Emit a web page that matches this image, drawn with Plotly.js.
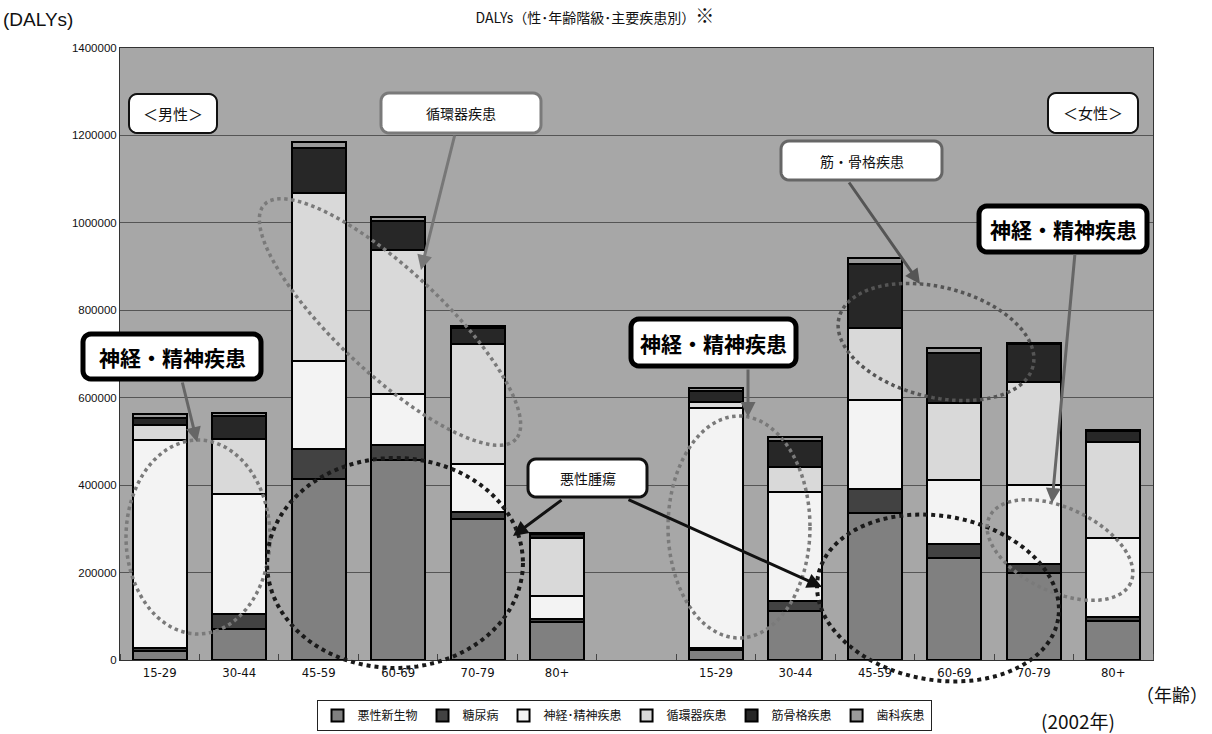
<!DOCTYPE html>
<html>
<head>
<meta charset="utf-8">
<script src="https://cdn.plot.ly/plotly-3.0.1.min.js"></script>
<style>html,body{margin:0;padding:0;background:#fff;}#chart{width:1212px;height:734px;}</style>
</head>
<body>
<div id="chart"></div>
<script>
// ---- data ----
const ageGroups = ['15-29', '30-44', '45-59', '60-69', '70-79', '80+'];
const sexes = ['男性', '女性'];
const seriesNames = ['悪性新生物', '糖尿病', '神経･精神疾患', '循環器疾患', '筋骨格疾患', '歯科疾患'];

// male (15-29 ... 80+)
const maleCancer     = [20000, 72000, 415000, 458000, 323000, 88000];
const maleDiabetes   = [8000, 33000, 68000, 33000, 15000, 6000];
const maleNeuro      = [476000, 275000, 200000, 118000, 110000, 53000];
const maleCirc       = [34000, 125000, 385000, 330000, 275000, 133000];
const maleMusculo    = [15000, 54000, 103000, 66000, 37000, 8000];
const maleDental     = [9000, 7000, 13000, 9000, 4000, 2000];

// female (15-29 ... 80+)
const femaleCancer   = [22000, 111000, 336000, 234000, 198000, 89000];
const femaleDiabetes = [5000, 23000, 55000, 31000, 22000, 10000];
const femaleNeuro    = [549000, 251000, 203000, 146000, 180000, 180000];
const femaleCirc     = [15000, 56000, 165000, 176000, 237000, 219000];
const femaleMusculo  = [25000, 61000, 146000, 115000, 85000, 26000];
const femaleDental   = [7000, 7000, 15000, 11000, 3000, 2000];

const yTicks = [0, 200000, 400000, 600000, 800000, 1000000, 1200000, 1400000];

// ---- build ----
const seriesColors = ['#808080', '#424242', '#f3f3f3', '#d9d9d9', '#272727', '#9a9a9a'];
const maleSeries = [maleCancer, maleDiabetes, maleNeuro, maleCirc, maleMusculo, maleDental];
const femaleSeries = [femaleCancer, femaleDiabetes, femaleNeuro, femaleCirc, femaleMusculo, femaleDental];

const maleX = ageGroups.map((_, i) => i);
const femaleX = ageGroups.map((_, i) => i + ageGroups.length + 1);
const tickvals = maleX.concat(femaleX);
const ticktext = ageGroups.concat(ageGroups);

const traces = seriesNames.map((name, k) => ({
  type: 'bar',
  name: name,
  x: maleX.concat(femaleX),
  y: maleSeries[k].concat(femaleSeries[k]),
  marker: {color: seriesColors[k], line: {color: '#000', width: 2}},
  width: 0.68,
  hoverinfo: 'x+y+name'
}));

// geometry helpers (plot area in pixels)
const L = 120, R = 1153, T = 48, B = 660;
const px = x => (x - L) / (R - L);
const py = y => (B - y) / (B - T);

function ellipse(cx, cy, a, b, angDeg) {
  const th = angDeg * Math.PI / 180;
  let d = '';
  for (let i = 0; i <= 90; i++) {
    const t = i / 90 * 2 * Math.PI;
    const ex = a * Math.cos(t), ey = b * Math.sin(t);
    const X = cx + ex * Math.cos(th) - ey * Math.sin(th);
    const Y = cy + ex * Math.sin(th) + ey * Math.cos(th);
    d += (i === 0 ? 'M' : 'L') + px(X).toFixed(5) + ',' + py(Y).toFixed(5);
  }
  return d + 'Z';
}
function roundRect(x0, y0, x1, y1, r) {
  const pts = [];
  const corners = [[x1 - r, y0 + r, -90], [x1 - r, y1 - r, 0], [x0 + r, y1 - r, 90], [x0 + r, y0 + r, 180]];
  corners.forEach(c => {
    for (let i = 0; i <= 6; i++) {
      const a = (c[2] + i * 15) * Math.PI / 180;
      pts.push([c[0] + r * Math.cos(a), c[1] + r * Math.sin(a)]);
    }
  });
  return pts.map((p, i) => (i === 0 ? 'M' : 'L') + px(p[0]).toFixed(5) + ',' + py(p[1]).toFixed(5)).join('') + 'Z';
}

const gray = '#7a7a7a';
const shapes = [
  {cx: 198, cy: 537, a: 72, b: 97, ang: 0, color: gray, w: 3.5},
  {cx: 390, cy: 322, a: 172, b: 52, ang: 43, color: gray, w: 3.5},
  {cx: 395, cy: 563, a: 128, b: 105, ang: 0, color: '#1a1a1a', w: 4},
  {cx: 739, cy: 527, a: 71, b: 111, ang: 0, color: gray, w: 3.5},
  {cx: 936, cy: 342, a: 100, b: 55, ang: 14, color: '#555', w: 3.5},
  {cx: 938, cy: 598, a: 122, b: 82, ang: 10, color: '#1a1a1a', w: 4},
  {cx: 1060, cy: 550, a: 78, b: 42, ang: 25, color: gray, w: 3.5}
].map(e => ({
  type: 'path', xref: 'paper', yref: 'paper', layer: 'above',
  path: ellipse(e.cx, e.cy, e.a, e.b, e.ang),
  line: {color: e.color, width: e.w, dash: 'dot'}
}));

const jp = '"Noto Sans CJK JP", "Noto Sans", sans-serif';
const annotations = [];
function box(text, x0, y0, x1, y1, border, bw, font) {
  shapes.push({type: 'path', xref: 'paper', yref: 'paper', layer: 'above',
    path: roundRect(x0, y0, x1, y1, 8), fillcolor: '#ffffff', line: {color: border, width: bw}});
  annotations.push({xref: 'paper', yref: 'paper', x: px((x0 + x1) / 2), y: py((y0 + y1) / 2),
    xanchor: 'center', yanchor: 'middle', showarrow: false, text: text,
    font: font || {family: jp, size: 14, color: '#111'}});
}
function arrow(x0, y0, x1, y1, color, w) {
  annotations.push({
    xref: 'paper', yref: 'paper', x: px(x1), y: py(y1),
    ax: x0 - x1, ay: y0 - y1, axref: 'pixel', ayref: 'pixel',
    showarrow: true, text: '', arrowhead: 2, arrowsize: 1, arrowwidth: w, arrowcolor: color
  });
}

const boldFont = {family: jp, size: 21, color: '#000', weight: 900};
arrow(455, 134, 421, 270, '#777', 3);
arrow(848, 181, 920, 284, '#555', 3);
arrow(182, 381, 197, 442, '#666', 3);
arrow(748, 368, 748, 417, '#666', 3);
arrow(1075, 253, 1052, 503, '#666', 3);
arrow(563, 499, 513, 536, '#111', 3);
arrow(627, 499, 822, 587, '#111', 3);
box('＜男性＞', 129, 94, 217, 133, '#111', 2, {family: jp, size: 15, color: '#111'});
box('循環器疾患', 381, 93, 541, 133, '#7a7a7a', 3);
box('＜女性＞', 1048, 93, 1138, 133, '#111', 2, {family: jp, size: 15, color: '#111'});
box('筋・骨格疾患', 781, 141, 942, 180, '#666', 3);
box('<b>神経・精神疾患</b>', 83, 334, 261, 379, '#000', 5, boldFont);
box('<b>神経・精神疾患</b>', 631, 319, 796, 366, '#000', 5, boldFont);
box('<b>神経・精神疾患</b>', 979, 206, 1147, 252, '#000', 5, boldFont);
box('悪性腫瘍', 528, 459, 647, 497, '#111', 3);

annotations.push(
  {xref: 'paper', yref: 'paper', x: px(38), y: py(20), xanchor: 'center', yanchor: 'middle', showarrow: false,
   text: '(DALYs)', font: {family: '"Liberation Sans Narrow", "Liberation Sans", Arial, sans-serif', size: 19, color: '#111'}},
  {xref: 'paper', yref: 'paper', x: px(1172), y: py(694), xanchor: 'center', yanchor: 'middle', showarrow: false,
   text: '（年齢）', font: {family: jp, size: 18, color: '#111'}},
  {xref: 'paper', yref: 'paper', x: px(1078), y: py(720), xanchor: 'center', yanchor: 'middle', showarrow: false,
   text: '(2002年)', font: {family: '"Liberation Sans Narrow", ' + jp, size: 19, color: '#111'}}
);

const layout = {
  width: 1212, height: 734,
  margin: {l: L, r: 1212 - R, t: T, b: 734 - B, autoexpand: false},
  paper_bgcolor: '#ffffff', plot_bgcolor: '#a7a7a7',
  barmode: 'stack',
  title: {text: 'DALYs（性･年齢階級･主要疾患別）<span style="font-size:19px"><b>※</b></span>', x: 595 / 1212, xanchor: 'center',
          y: 1 - 18 / 734, yanchor: 'middle', font: {family: jp, size: 14, color: '#111'}},
  xaxis: {range: [-0.5, tickvals[tickvals.length - 1] + 0.5], tickmode: 'array', tickvals: tickvals, ticktext: ticktext,
          showgrid: false, zeroline: false, showline: true, linecolor: '#333', linewidth: 1, mirror: true,
          ticks: '', tickfont: {family: '"Liberation Sans Narrow", "DejaVu Sans Condensed", sans-serif', size: 13, color: '#111'},
          minor: {tickmode: 'linear', tick0: -0.5, dtick: 1, ticks: 'inside', ticklen: 6, tickcolor: '#444', tickwidth: 1, showgrid: false}},
  yaxis: {range: [0, 1400000], tickmode: 'array', tickvals: yTicks, ticktext: yTicks.map(String),
          showgrid: true, gridcolor: '#555', gridwidth: 1, zeroline: false,
          showline: true, linecolor: '#333', linewidth: 1, mirror: true, ticks: '',
          tickfont: {family: '"Liberation Sans", Arial, sans-serif', size: 11.5, color: '#111'}},
  showlegend: true,
  legend: {orientation: 'h', x: px(624), xanchor: 'center', y: py(731), yanchor: 'bottom',
           bordercolor: '#222', borderwidth: 1, bgcolor: '#fff', traceorder: 'normal',
           itemwidth: 30, font: {family: jp, size: 12, color: '#111'}},
  shapes: shapes,
  annotations: annotations
};

Plotly.newPlot('chart', traces, layout, {displayModeBar: false, staticPlot: true});
</script>
</body>
</html>
